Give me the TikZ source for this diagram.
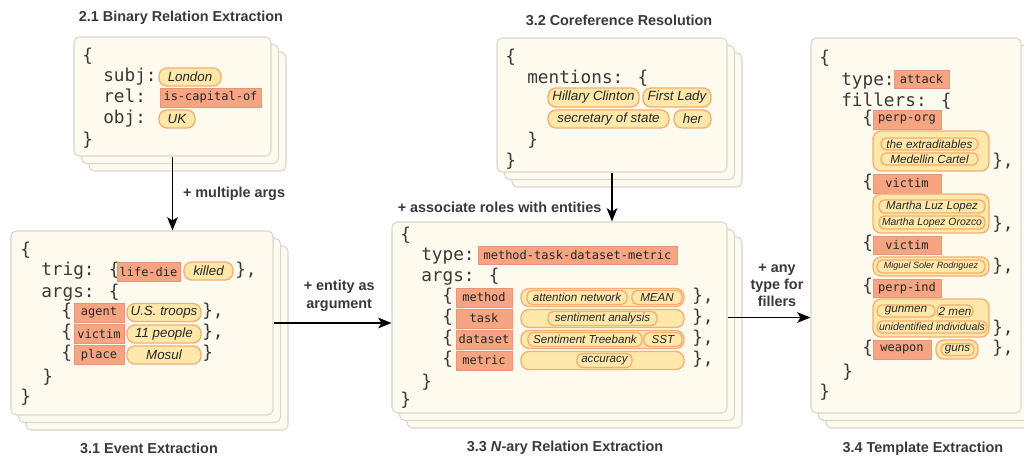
\documentclass[tikz,border=0pt]{standalone}
\usepackage{fontspec}
\setmainfont{Liberation Sans}
\newfontfamily\codefont{DejaVu Sans Mono}
\usetikzlibrary{arrows.meta,positioning,shadows}
\definecolor{cardfill}{HTML}{FEFBEE}
\definecolor{cardline}{HTML}{D7D6D1}
\definecolor{rolefill}{HTML}{F6A583}
\definecolor{roleline}{HTML}{E8957A}
\definecolor{entfill}{HTML}{FFE8AA}
\definecolor{entline}{HTML}{F6AE72}
\definecolor{ink}{HTML}{3B3838}

\begin{document}
\begin{tikzpicture}[
  x=0.75pt, y=-0.75pt,
  sz/.style 2 args={minimum width=#1*0.75pt, minimum height=#2*0.75pt},
  card/.style={draw=cardline, fill=cardfill, line width=0.8pt, rounded corners=4pt, inner sep=0pt,
    copy shadow={shadow xshift=11.25pt, shadow yshift=-11.25pt},
    copy shadow={shadow xshift=5.6pt, shadow yshift=-5.6pt}},
  kw/.style={font=\codefont\fontsize{13.3}{16}\selectfont, text=ink, anchor=base west, inner sep=0pt},
  role/.style={draw=roleline, fill=rolefill, line width=0.6pt, inner sep=0pt,
    font=\codefont\fontsize{9}{11}\selectfont, text=black!85},
  ent/.style={draw=entline, fill=entfill, line width=1pt, rounded corners=6pt, inner sep=0pt,
    text=black!85, font=\itshape\fontsize{#1}{#1}\selectfont},
  ent/.default=10,
  subent/.style={ent=#1, rounded corners=4pt},
  subent/.default=8.7,
  entset/.style={draw=entline, fill=entfill, line width=1pt, rounded corners=6pt, inner sep=0pt},
  ttl/.style={font=\bfseries\fontsize{10.8}{13}\selectfont, text=ink},
  hint/.style={font=\bfseries\fontsize{10.8}{13}\selectfont, text=ink, align=center},
  arr/.style={-{Stealth[length=10pt,width=8pt,inset=2.5pt]}, line width=1.1pt, black}
]
\useasboundingbox (0,0) rectangle (1024,457);

\node[ttl] (t21) at (181,18) {2.1 Binary Relation Extraction};
\node[card, sz={197}{119}] (c21) at (172.5,96.5) {};
\node[kw] (k21a) at (82,61) {\{};
\node[kw] (k21b) at (103,81) {subj:};
\node[kw] (k21c) at (103,102) {rel:};
\node[kw] (k21d) at (103,123) {obj:};
\node[kw] (k21e) at (82,145) {\}};
\node[ent, sz={62}{18}] (london) at (190,77) {London};
\node[role, sz={101}{19}] (capital) at (210.5,97.5) {is-capital-of};
\node[ent, sz={36}{18}] (uk) at (177,119) {UK};

\node[ttl] (t31) at (149,448) {3.1 Event Extraction};
\node[card, sz={262}{184}] (c31) at (142,323) {};
\node[kw] (k31a) at (20,255) {\{};
\node[kw] (k31b) at (41,275) {trig: \{};
\node[role, sz={63}{19}] (lifedie) at (148.5,271.5) {life-die};
\node[ent, sz={49}{18}] (killed) at (208.5,271) {killed};
\node[kw] (k31c) at (235,275) {\},};
\node[kw] (k31d) at (41,297) {args: \{};
\node[kw, anchor=mid west] (b31a) at (61,312.5) {\{};
\node[role, sz={50}{19}] (agent) at (99,312.5) {agent};
\node[ent, sz={74}{18}] (troops) at (164,312.5) {U.S. troops};
\node[kw, anchor=mid west] (e31a) at (202,312.5) {\},};
\node[kw, anchor=mid west] (b31b) at (61,334) {\{};
\node[role, sz={50}{19}] (victim31) at (99,334) {victim};
\node[ent, sz={74}{18}] (people) at (164,334) {11 people};
\node[kw, anchor=mid west] (e31b) at (202,334) {\},};
\node[kw, anchor=mid west] (b31c) at (61,355) {\{};
\node[role, sz={50}{19}] (place) at (99,355) {place};
\node[ent, sz={74}{18}] (mosul) at (164,355) {Mosul};
\node[kw, anchor=mid west] (e31c) at (202,355) {\}};
\node[kw] (k31e) at (42,382) {\}};
\node[kw] (k31f) at (20,402) {\}};

\node[ttl] (t32) at (619,20) {3.2 Coreference Resolution};
\node[card, sz={230}{134}] (c32) at (612,105) {};
\node[kw] (k32a) at (505,62) {\{};
\node[kw] (k32b) at (527,83) {mentions: \{};
\node[ent, sz={91}{19}] (hillary) at (593.5,97.5) {Hillary Clinton};
\node[ent, sz={68}{19}] (lady) at (677,97.5) {First Lady};
\node[ent, sz={121}{18}] (secretary) at (608.5,119) {secretary of state};
\node[ent, sz={37}{18}] (her) at (692.5,119) {her};
\node[kw] (k32c) at (527,145) {\}};
\node[kw] (k32d) at (505,166) {\}};

\node[ttl] (t33) at (565,448) {3.3 \textit{N}-ary Relation Extraction};
\node[card, sz={335}{191}] (c33) at (559.5,317.5) {};
\node[kw] (k33a) at (400,240) {\{};
\node[kw] (k33b) at (421,260) {type:};
\node[role, sz={199}{18}] (ntype) at (577.5,255.5) {method-task-dataset-metric};
\node[kw] (k33c) at (421,281) {args: \{};
\node[kw, anchor=mid west] (b33a) at (442,297.5) {\{};
\node[role, sz={56}{19}] (method) at (484,297.5) {method};
\node[entset, sz={163}{18}] (s33a) at (602.5,297.5) {};
\node[subent, sz={100}{14}] (attention) at (577,297.5) {attention network};
\node[subent, sz={50}{14}] (mean) at (657,297.5) {MEAN};
\node[kw, anchor=mid west] (e33a) at (692,297.5) {\},};
\node[kw, anchor=mid west] (b33b) at (442,318.5) {\{};
\node[role, sz={56}{19}] (task) at (484,318.5) {task};
\node[entset, sz={163}{18}] (s33b) at (602.5,318.5) {};
\node[subent, sz={109}{14}] (sentiment) at (602.5,318.5) {sentiment analysis};
\node[kw, anchor=mid west] (e33b) at (692,318.5) {\},};
\node[kw, anchor=mid west] (b33c) at (442,339.5) {\{};
\node[role, sz={56}{19}] (dataset) at (484,339.5) {dataset};
\node[entset, sz={163}{18}] (s33c) at (602.5,339.5) {};
\node[subent, sz={114}{14}] (treebank) at (585,339.5) {Sentiment Treebank};
\node[subent, sz={38}{14}] (sst) at (663,339.5) {SST};
\node[kw, anchor=mid west] (e33c) at (692,339.5) {\},};
\node[kw, anchor=mid west] (b33d) at (442,360.5) {\{};
\node[role, sz={56}{19}] (metric) at (484,360.5) {metric};
\node[entset, sz={163}{18}] (s33d) at (602.5,360.5) {};
\node[subent, sz={55}{14}] (accuracy) at (604.5,360.5) {accuracy};
\node[kw, anchor=mid west] (e33d) at (692,360.5) {\},};
\node[kw] (k33d) at (421,387) {\}};
\node[kw] (k33e) at (400,405) {\}};

\node[ttl] (t34) at (923,449) {3.4 Template Extraction};
\node[card, sz={210}{375}] (c34) at (916,225.5) {};
\node[kw] (k34a) at (819,63) {\{};
\node[kw] (k34b) at (841,85) {type:};
\node[role, sz={55}{18}] (attack) at (921.5,79) {attack};
\node[kw] (k34c) at (841,106) {fillers: \{};
\node[kw, anchor=mid west] (b34a) at (862,119.5) {\{};
\node[role, sz={68}{19}] (perporg) at (907,119.5) {perp-org};
\node[entset, sz={116}{40}] (s34a) at (931,151) {};
\node[subent=8.8, sz={97}{12}] (extraditables) at (929.5,144) {the extraditables};
\node[subent=8.8, sz={97}{12}] (medellin) at (929.5,159) {Medellin Cartel};
\node[kw, anchor=mid west] (e34a) at (992,163) {\},};
\node[kw, anchor=mid west] (b34b) at (862,183.5) {\{};
\node[role, sz={68}{19}] (victim34a) at (907,183.5) {victim};
\node[entset, sz={116}{39}] (s34b) at (931,213.5) {};
\node[subent=8.6, sz={106}{13}] (luz) at (932,206.5) {Martha Luz Lopez};
\node[subent=7.8, sz={106}{13}] (orozco) at (932,222.5) {Martha Lopez Orozco};
\node[kw, anchor=mid west] (e34b) at (992,226) {\},};
\node[kw, anchor=mid west] (b34c) at (862,245) {\{};
\node[role, sz={68}{18}] (victim34b) at (907,245) {victim};
\node[entset, sz={116}{19}] (s34c) at (931,266.5) {};
\node[subent=6.8, sz={108}{13}] (miguel) at (931,266.5) {Miguel Soler Rodriguez};
\node[kw, anchor=mid west] (e34c) at (992,268) {\},};
\node[kw, anchor=mid west] (b34d) at (862,288) {\{};
\node[role, sz={68}{18}] (perpind) at (907,288) {perp-ind};
\node[entset, sz={116}{38}] (s34d) at (931,318) {};
\node[subent=8.8, sz={58}{12}] (gunmen) at (906,311) {gunmen};
\node[subent=8.8, sz={36}{12}] (twomen) at (955,311) {2 men};
\node[subent=7.9, sz={110}{12}] (unidentified) at (932,327) {unidentified individuals};
\node[kw, anchor=mid west] (e34d) at (992,330) {\},};
\node[kw, anchor=mid west] (b34e) at (862,349.5) {\{};
\node[role, sz={58}{19}] (weapon) at (902,349.5) {weapon};
\node[entset, sz={42}{19}] (s34e) at (957,349.5) {};
\node[subent=8.8, sz={33}{12}] (guns) at (957.5,349.5) {guns};
\node[kw, anchor=mid west] (e34e) at (992,349.5) {\},};
\node[kw] (k34d) at (842,377) {\}};
\node[kw] (k34e) at (819,397) {\}};

\draw[arr] (c21.south) -- node[hint, right, xshift=4pt] (n1) {+ multiple args} (c21.south |- c31.north);
\draw[arr] (c32.south) -- node[hint, left, pos=0.72, xshift=-4pt] (n2) {+ associate roles with entities} (c32.south |- c33.north);
\draw[arr] (c31.east) -- node[hint, above=5pt, xshift=5pt] (n3) {+ entity as\\argument} (c31.east -| c33.west);
\draw[arr] (c33.east) -- node[hint, above=4pt, xshift=6pt] (n4) {+ any\\type for\\fillers} (c33.east -| c34.west);
\end{tikzpicture}
\end{document}
